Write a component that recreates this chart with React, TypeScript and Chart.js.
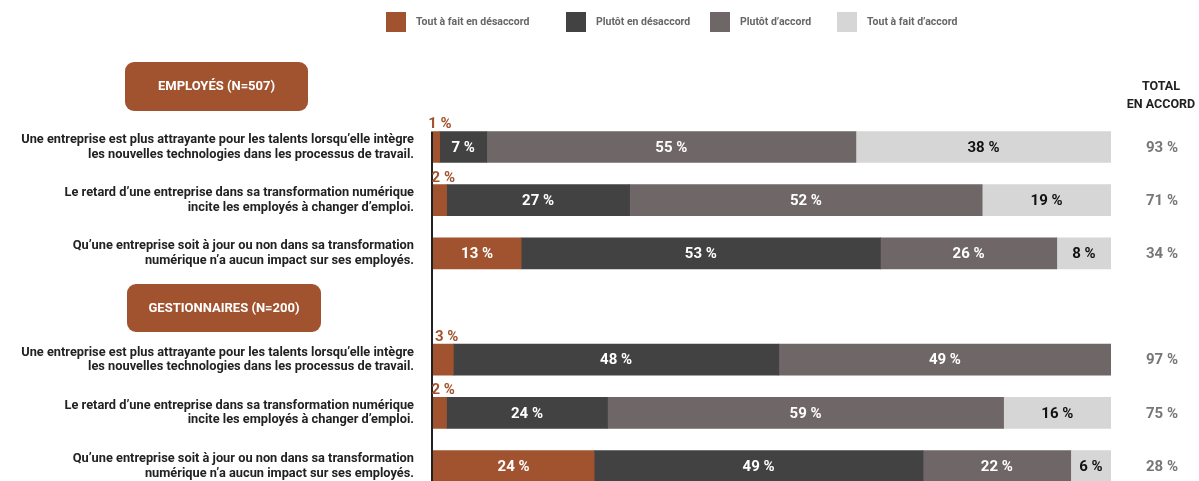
import React, { useEffect, useRef } from "react";
import { Chart, registerables } from "chart.js";

Chart.register(...registerables);

// ---------- DATA ----------
const categories: string[][] = [
  ["Une entreprise est plus attrayante pour les talents lorsqu’elle intègre", "les nouvelles technologies dans les processus de travail."],
  ["Le retard d’une entreprise dans sa transformation numérique", "incite les employés à changer d’emploi."],
  ["Qu’une entreprise soit à jour ou non dans sa transformation", "numérique n’a aucun impact sur ses employés."],
  [""],
  ["Une entreprise est plus attrayante pour les talents lorsqu’elle intègre", "les nouvelles technologies dans les processus de travail."],
  ["Le retard d’une entreprise dans sa transformation numérique", "incite les employés à changer d’emploi."],
  ["Qu’une entreprise soit à jour ou non dans sa transformation", "numérique n’a aucun impact sur ses employés."],
];

const seriesNames = ["Tout à fait en désaccord", "Plutôt en désaccord", "Plutôt d’accord", "Tout à fait d’accord"];

const toutDesaccord = [1, 2, 13, null, 3, 2, 24];
const plutotDesaccord = [7, 27, 53, null, 48, 24, 49];
const plutotAccord = [55, 52, 26, null, 49, 59, 22];
const toutAccord = [38, 19, 8, null, null, 16, 6];

const totalAccord = [93, 71, 34, null, 97, 75, 28];

const groupTitles = ["EMPLOYÉS (N=507)", "GESTIONNAIRES (N=200)"];
const totalHeader = ["TOTAL", "EN ACCORD"];

// ---------- STYLE ----------
const COLORS = ["#A1532F", "#424242", "#6F6668", "#D6D6D6"];
const LABEL_COLORS = ["#FFFFFF", "#FFFFFF", "#FFFFFF", "#111111"];
const FONT = "Roboto";

const rawSeries = [toutDesaccord, plutotDesaccord, plutotAccord, toutAccord];
const rowSums = categories.map((_, i) =>
  rawSeries.reduce((s, arr) => s + (arr[i] ?? 0), 0)
);

export default function App() {
  const ref = useRef<HTMLCanvasElement | null>(null);

  useEffect(() => {
    const canvas = ref.current;
    if (!canvas) return;

    const overlay = {
      id: "overlay",
      beforeDatasetsDraw(chart: any) {
        const { ctx, chartArea } = chart;
        // legend
        const legendX = [386, 566, 710, 837];
        ctx.save();
        ctx.font = `bold 10.5px ${FONT}`;
        ctx.textBaseline = "middle";
        ctx.textAlign = "left";
        chart.data.datasets.forEach((ds: any, i: number) => {
          ctx.fillStyle = ds.backgroundColor;
          ctx.fillRect(legendX[i], 12, 20, 20);
          ctx.fillStyle = "#666666";
          ctx.fillText(ds.label, legendX[i] + 30, 22.5);
        });
        // group title boxes
        const boxes = [
          [125, 62, 183, 49],
          [127, 284, 194, 48],
        ];
        boxes.forEach((b, i) => {
          ctx.fillStyle = COLORS[0];
          ctx.beginPath();
          (ctx as any).roundRect(b[0], b[1], b[2], b[3], 9);
          ctx.fill();
          ctx.fillStyle = "#FFFFFF";
          ctx.font = `bold 13px ${FONT}`;
          ctx.textAlign = "center";
          ctx.fillText(groupTitles[i], b[0] + b[2] / 2, b[1] + b[3] / 2 + 0.5);
        });
        // total header
        ctx.fillStyle = "#222222";
        ctx.font = `bold 12.5px ${FONT}`;
        ctx.textAlign = "center";
        ctx.fillText(totalHeader[0], 1161, 87);
        ctx.fillText(totalHeader[1], 1161, 104.5);
        // axis line
        const meta0 = chart.getDatasetMeta(0);
        const first = meta0.data[0];
        const top = first.y - first.height / 2;
        ctx.fillStyle = "#222222";
        ctx.fillRect(chartArea.left - 2, top, 2, chartArea.bottom - top);
        ctx.restore();
      },
      afterDatasetsDraw(chart: any) {
        const { ctx } = chart;
        ctx.save();
        ctx.font = `bold 15px ${FONT}`;
        chart.data.datasets.forEach((ds: any, di: number) => {
          const meta = chart.getDatasetMeta(di);
          meta.data.forEach((el: any, j: number) => {
            const v = rawSeries[di][j];
            if (v == null || v === 0) return;
            const cx = (el.x + el.base) / 2;
            if (v <= 3) {
              ctx.fillStyle = COLORS[0];
              ctx.textAlign = "center";
              ctx.textBaseline = "alphabetic";
              ctx.fillText(`${v} %`, cx + 3.5, el.y - el.height / 2 - 3);
            } else {
              ctx.fillStyle = LABEL_COLORS[di];
              ctx.textAlign = "center";
              ctx.textBaseline = "middle";
              ctx.fillText(`${v} %`, cx, el.y + 1);
            }
          });
        });
        // totals
        ctx.fillStyle = "#777777";
        ctx.textAlign = "center";
        ctx.textBaseline = "middle";
        const yScale = chart.scales.y;
        totalAccord.forEach((t, j) => {
          if (t == null) return;
          ctx.fillText(`${t} %`, 1162, yScale.getPixelForValue(j) + 1);
        });
        ctx.restore();
      },
    };

    const chart = new Chart(canvas, {
      type: "bar",
      data: {
        labels: categories,
        datasets: rawSeries.map((arr, i) => ({
          label: seriesNames[i],
          data: arr.map((v, j) => (v == null ? null : (v / rowSums[j]) * 100)),
          backgroundColor: COLORS[i],
          borderWidth: 0,
          barThickness: 31,
        })),
      },
      options: {
        indexAxis: "y",
        responsive: false,
        animation: false,
        devicePixelRatio: 1,
        layout: { padding: { top: 120.4, bottom: 7.4, left: 0, right: 88 } },
        plugins: {
          legend: { display: false },
          tooltip: { enabled: false },
        },
        scales: {
          x: {
            stacked: true,
            min: 0,
            max: 100,
            display: false,
          },
          y: {
            stacked: true,
            grid: { display: false, drawTicks: false },
            border: { display: false },
            afterFit: (scale: any) => {
              scale.width = 433;
              scale.paddingTop = 0;
              scale.paddingBottom = 0;
            },
            ticks: {
              autoSkip: false,
              padding: 19,
              color: "#222222",
              font: { family: FONT, size: 12.8, weight: "bold", lineHeight: 1.15 },
            },
          },
        },
      },
      plugins: [overlay],
    } as any);

    return () => chart.destroy();
  }, []);

  return (
    <div
      style={{
        position: "fixed",
        left: 0,
        top: 0,
        width: 1199,
        height: 481,
        overflow: "hidden",
        background: "#ffffff",
      }}
    >
      <canvas ref={ref} width={1199} height={500} style={{ display: "block", width: 1199, height: 500 }} />
    </div>
  );
}
